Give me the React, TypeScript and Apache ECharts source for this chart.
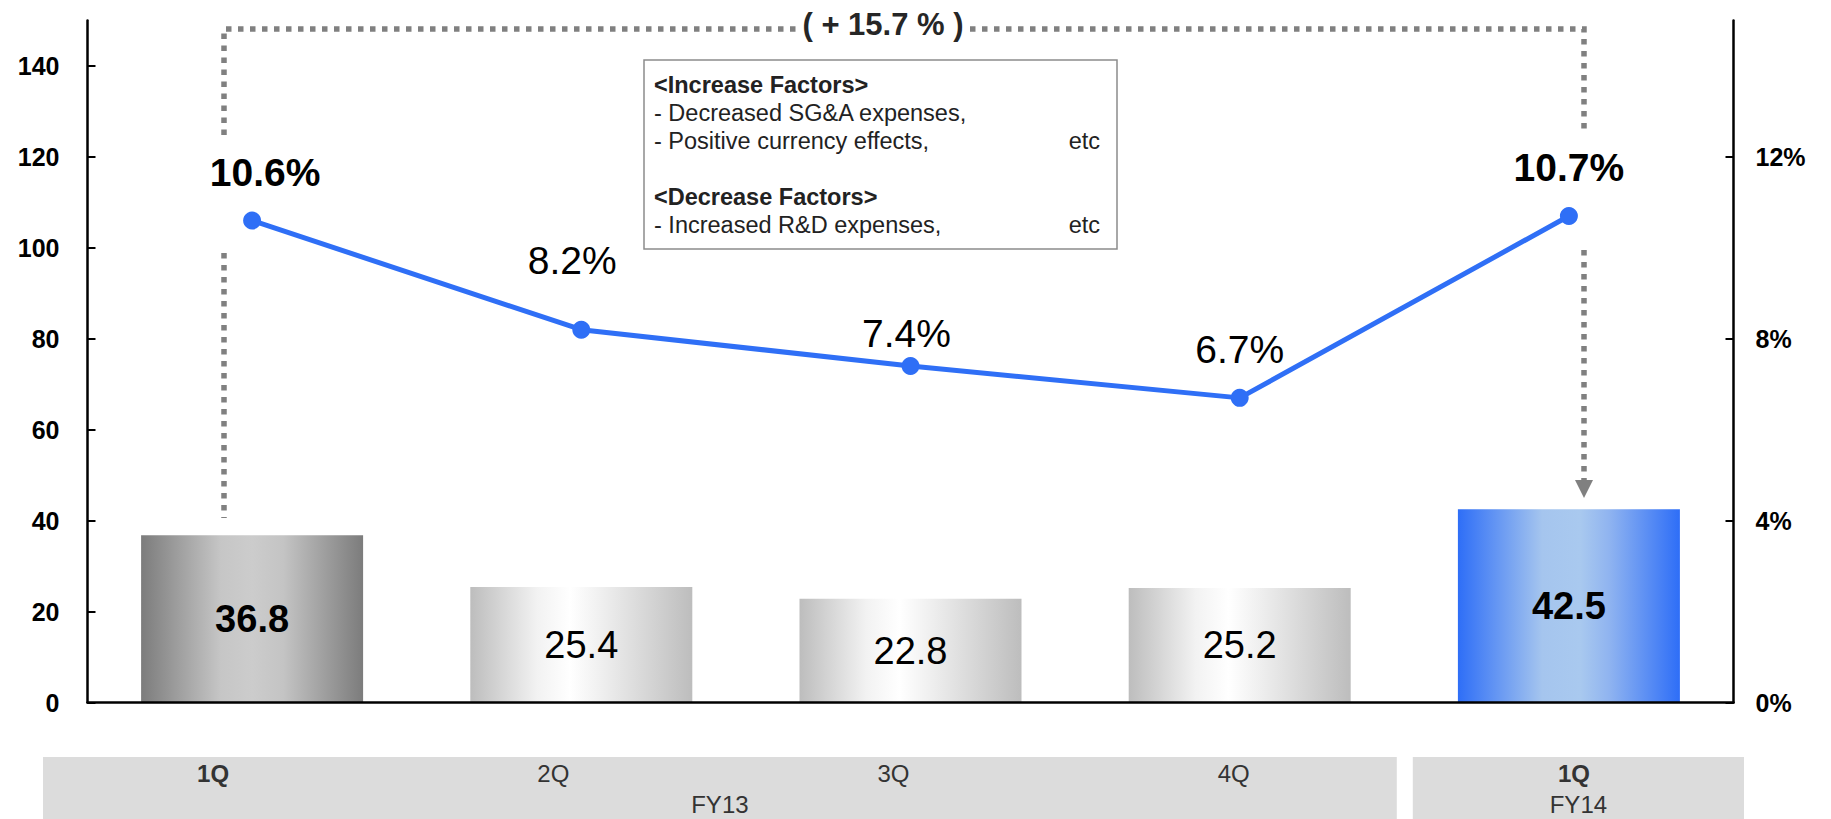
import React, { useEffect, useRef } from 'react';
import * as echarts from 'echarts';

const categories = ['1Q', '2Q', '3Q', '4Q', '1Q'];
const fiscalGroups = ['FY13', 'FY14'];
const groupSpans = [4, 1];
const operatingProfit = [36.8, 25.4, 22.8, 25.2, 42.5];
const operatingMargin = [10.6, 8.2, 7.4, 6.7, 10.7];
const leftTicks = [0, 20, 40, 60, 80, 100, 120, 140];
const rightTicks = [0, 4, 8, 12];
const growthLabel = '( + 15.7 % )';
const increaseTitle = '<Increase Factors>';
const increaseFactors = ['- Decreased SG&A expenses,', '- Positive currency effects,'];
const decreaseTitle = '<Decrease Factors>';
const decreaseFactors = ['- Increased R&D expenses,'];

const FONT = '"Liberation Sans", Arial, Helvetica, sans-serif';
const W = 1831;
const H = 819;

const boldIdx = [0, 4];
const marginLabelOffsets: [number, number][] = [[13, 0], [-9, -21], [-4, 16], [0, 0], [0, 0]];

function grad(stops: [number, string][]) {
  return {
    type: 'linear', x: 0, y: 0, x2: 1, y2: 0,
    colorStops: stops.map(([offset, color]) => ({ offset, color })),
  };
}
const darkGray = grad([[0, '#7c7c7c'], [0.36, '#c6c6c6'], [0.5, '#cccccc'], [0.64, '#c4c4c4'], [1, '#7c7c7c']]);
const lightGray = grad([[0, '#bdbdbd'], [0.3, '#f2f2f2'], [0.45, '#ffffff'], [0.6, '#eeeeee'], [1, '#bdbdbd']]);
const blue = grad([[0, '#2e6ef7'], [0.38, '#a5c5ee'], [0.55, '#a9c9ef'], [0.68, '#90b4f0'], [1, '#2e6ef7']]);

export default function App() {
  const ref = useRef<HTMLDivElement>(null);
  useEffect(() => {
    if (!ref.current) return;
    const chart = echarts.init(ref.current, undefined, { renderer: 'svg' });

    const bandLeft = 43;
    const bandRight = 1744;
    const slot = (bandRight - bandLeft) / categories.length;
    const bandTop = 757;
    const bandH = 62;
    const bands: any[] = [];
    let start = 0;
    groupSpans.forEach((span, gi) => {
      const x0 = bandLeft + start * slot + (start > 0 ? 9 : 0);
      const x1 = bandLeft + (start + span) * slot - (start + span < categories.length ? 7 : 0);
      bands.push({
        type: 'rect', z: 0, silent: true,
        shape: { x: x0, y: bandTop, width: x1 - x0, height: bandH },
        style: { fill: '#dcdcdc' },
      });
      bands.push({
        type: 'text', z: 2, silent: true,
        x: (x0 + x1) / 2, y: 804,
        style: { text: fiscalGroups[gi], font: `24px ${FONT}`, fill: '#333333', align: 'center', verticalAlign: 'middle' },
      });
      start += span;
    });

    const dotted = { stroke: '#808080', lineWidth: 5.5, lineDash: [5.5, 6.5], fill: null as any };
    const boxX = 644, boxY = 60, boxW = 473, boxH = 189;
    const textLeft = 654;
    const lineYs = [85, 113, 141, 197, 225];
    const boxTexts: any[] = [
      { t: increaseTitle, y: lineYs[0], bold: true },
      { t: increaseFactors[0], y: lineYs[1] },
      { t: increaseFactors[1], y: lineYs[2], etc: true },
      { t: decreaseTitle, y: lineYs[3], bold: true },
      { t: decreaseFactors[0], y: lineYs[4], etc: true },
    ];
    const boxEls: any[] = [];
    boxTexts.forEach((b) => {
      boxEls.push({
        type: 'text', z: 11, silent: true, x: textLeft, y: b.y,
        style: { text: b.t, font: `${b.bold ? 'bold ' : ''}23.5px ${FONT}`, fill: '#222222', align: 'left', verticalAlign: 'middle' },
      });
      if (b.etc) {
        boxEls.push({
          type: 'text', z: 11, silent: true, x: 1100, y: b.y,
          style: { text: 'etc', font: `23.5px ${FONT}`, fill: '#222222', align: 'right', verticalAlign: 'middle' },
        });
      }
    });

    const option: any = {
      animation: false,
      backgroundColor: '#ffffff',
      textStyle: { fontFamily: FONT },
      grid: [
        { left: 87.5, right: 97.5, top: 20.5, bottom: 116.5 },
        { left: bandLeft, right: W - bandRight, top: bandTop, height: bandH },
      ],
      xAxis: [
        {
          type: 'category', gridIndex: 0, data: categories,
          axisLine: { lineStyle: { color: '#000000', width: 2.5 } },
          axisTick: { show: false }, axisLabel: { show: false },
          z: 5,
        },
        {
          type: 'category', gridIndex: 1, data: categories, position: 'top',
          axisLine: { show: false }, axisTick: { show: false },
          axisLabel: {
            inside: true, margin: 4, fontSize: 24, color: '#333333', fontFamily: FONT,
            formatter: (v: string, i: number) => (boldIdx.includes(i) ? `{b|${v}}` : `{n|${v}}`),
            rich: {
              b: { fontSize: 24, fontWeight: 'bold', color: '#333333', fontFamily: FONT },
              n: { fontSize: 24, color: '#333333', fontFamily: FONT },
            },
          },
          z: 3,
        },
      ],
      yAxis: [
        {
          type: 'value', gridIndex: 0, min: 0, max: 150, interval: 10,
          splitLine: { show: false },
          axisLine: { show: true, lineStyle: { color: '#000000', width: 2.5 } },
          axisTick: { show: true, inside: true, length: 8, lineStyle: { color: '#000000', width: 2 }, customValues: leftTicks },
          axisLabel: { margin: 28, fontSize: 25, fontWeight: 'bold', color: '#000000', fontFamily: FONT, customValues: leftTicks },
        },
        {
          type: 'value', gridIndex: 0, min: 0, max: 15, interval: 1, position: 'right',
          splitLine: { show: false },
          axisLine: { show: true, lineStyle: { color: '#000000', width: 2.5 } },
          axisTick: { show: true, inside: true, length: 8, lineStyle: { color: '#000000', width: 2 }, customValues: rightTicks },
          axisLabel: { margin: 22, fontSize: 25, fontWeight: 'bold', color: '#000000', fontFamily: FONT, formatter: '{value}%', customValues: rightTicks },
        },
        { type: 'value', gridIndex: 1, show: false },
      ],
      series: [
        {
          type: 'bar', xAxisIndex: 0, yAxisIndex: 0, barWidth: 222, z: 2,
          data: operatingProfit.map((v, i) => ({
            value: v,
            itemStyle: { color: i === 0 ? darkGray : i === 4 ? blue : lightGray },
            label: { fontWeight: boldIdx.includes(i) ? 'bold' : 'normal' },
          })),
          label: { show: true, position: 'inside', fontSize: 38, color: '#000000', fontFamily: FONT },
        },
        {
          type: 'line', xAxisIndex: 0, yAxisIndex: 1, z: 4,
          symbol: 'circle', symbolSize: 18,
          lineStyle: { color: '#2f6ff6', width: 5 },
          itemStyle: { color: '#2f6ff6' },
          data: operatingMargin.map((v, i) => ({
            value: v,
            label: { fontWeight: boldIdx.includes(i) ? 'bold' : 'normal', offset: marginLabelOffsets[i] },
          })),
          label: {
            show: true, position: 'top', distance: 20, fontSize: 39, color: '#000000', fontFamily: FONT,
            formatter: (p: any) => `${p.value.toFixed(1)}%`,
          },
        },
      ],
      graphic: [
        ...bands,
        { type: 'polyline', z: 8, silent: true, shape: { points: [[224, 135], [224, 29], [1584, 29], [1584, 133]] }, style: dotted },
        { type: 'line', z: 8, silent: true, shape: { x1: 224, y1: 253, x2: 224, y2: 518 }, style: dotted },
        { type: 'line', z: 8, silent: true, shape: { x1: 1584, y1: 250, x2: 1584, y2: 481 }, style: dotted },
        { type: 'polygon', z: 8, silent: true, shape: { points: [[1575, 480], [1593, 480], [1584, 498]] }, style: { fill: '#808080' } },
        {
          type: 'text', z: 9, silent: true, x: 883, y: 24,
          style: {
            text: growthLabel, font: `bold 31px ${FONT}`, fill: '#262626', align: 'center', verticalAlign: 'middle',
            backgroundColor: '#ffffff', padding: [2, 4],
          },
        },
        {
          type: 'rect', z: 10, silent: true,
          shape: { x: boxX, y: boxY, width: boxW, height: boxH },
          style: { fill: '#ffffff', stroke: '#8c8c8c', lineWidth: 1.5 },
        },
        ...boxEls,
      ],
    };
    chart.setOption(option);
    return () => chart.dispose();
  }, []);
  return <div ref={ref} style={{ position: 'absolute', left: 0, top: 0, width: W, height: H }} />;
}
